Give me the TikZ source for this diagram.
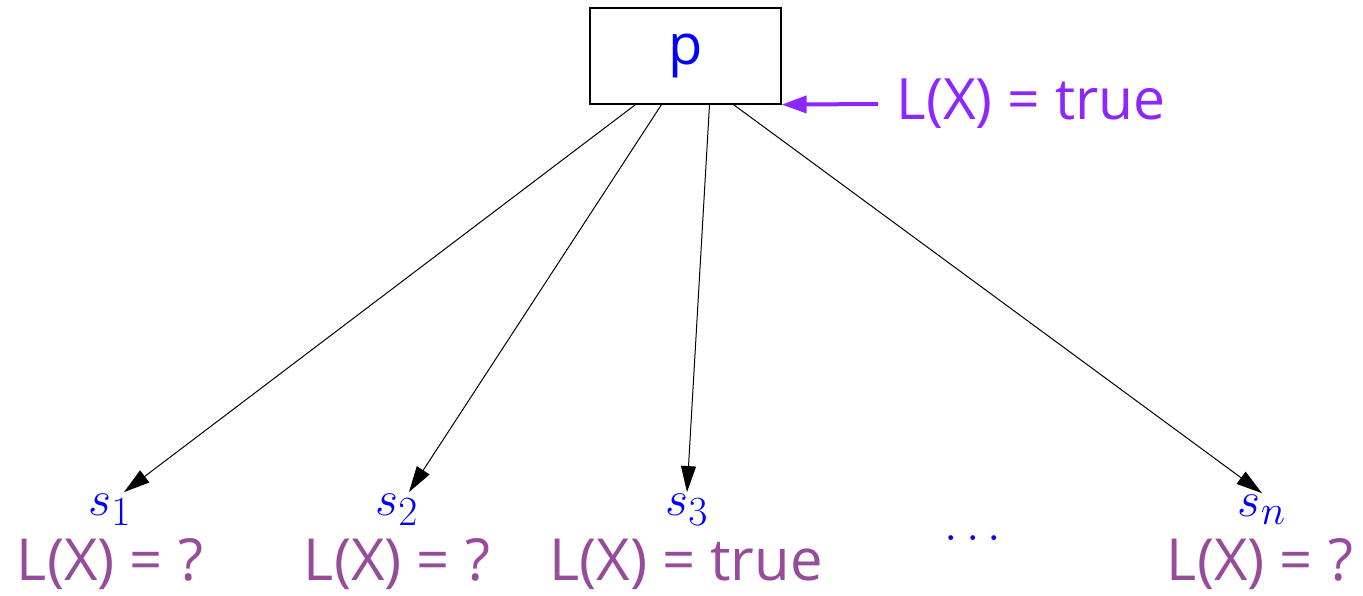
\documentclass[tikz,border=0pt]{standalone}
\usepackage{fontspec}
\setsansfont{Open Sans}
\usepackage{tikz}
\usetikzlibrary{arrows.meta}

\definecolor{nodeblue}{RGB}{0,0,255}
\definecolor{setviolet}{RGB}{140,40,255}
\definecolor{askplum}{RGB}{150,75,155}

\begin{document}
\begin{tikzpicture}[x=0.5pt, y=-0.5pt,
  every node/.style={font=\sffamily},
  lbl/.style={text=askplum, font=\sffamily\fontsize{29}{32}\selectfont, inner sep=0pt},
  succ/.style={text=nodeblue, font=\fontsize{28}{32}\selectfont, inner sep=1pt},
  edge/.style={-{Triangle[length=13pt, width=7.5pt]}, line width=0.5pt}]

  \useasboundingbox (0,0) rectangle (1363,595);

  % parent
  \node[draw, line width=0.6pt, minimum width=95.5pt, minimum height=48pt,
        text=nodeblue, font=\sffamily\fontsize{28}{32}\selectfont] (p) at (685.5,56) {p};
  \node[text=setviolet, inner xsep=9pt, font=\sffamily\fontsize{28.5}{32}\selectfont] (lt) at (1031,104) {L(X) = true};
  \draw[-{Triangle[length=12.5pt, width=8.5pt]}, setviolet, line width=2pt] (lt.west) -- (p.south east);

  % successors
  \node[succ] (s1) at (110,510) {$s_1$};
  \node[succ] (s2) at (397,510) {$s_2$};
  \node[succ] (s3) at (687,510) {$s_3$};
  \node[succ] (dots) at (973,538) {$\ldots$};
  \node[succ] (sn) at (1262,510) {$s_n$};

  \node[lbl] (l1) at (110,564) {L(X) = ?};
  \node[lbl] (l2) at (397,564) {L(X) = ?};
  \node[lbl] (l3) at (686,564) {L(X) = true};
  \node[lbl] (ln) at (1260,564) {L(X) = ?};

  \draw[edge] ([xshift=-25pt]p.south) -- ([xshift=7pt]s1.north);
  \draw[edge] ([xshift=-12pt]p.south) -- ([xshift=6pt]s2.north);
  \draw[edge] ([xshift=12pt]p.south) -- (s3.north);
  \draw[edge] ([xshift=24pt]p.south) -- (sn.north);
\end{tikzpicture}
\end{document}
